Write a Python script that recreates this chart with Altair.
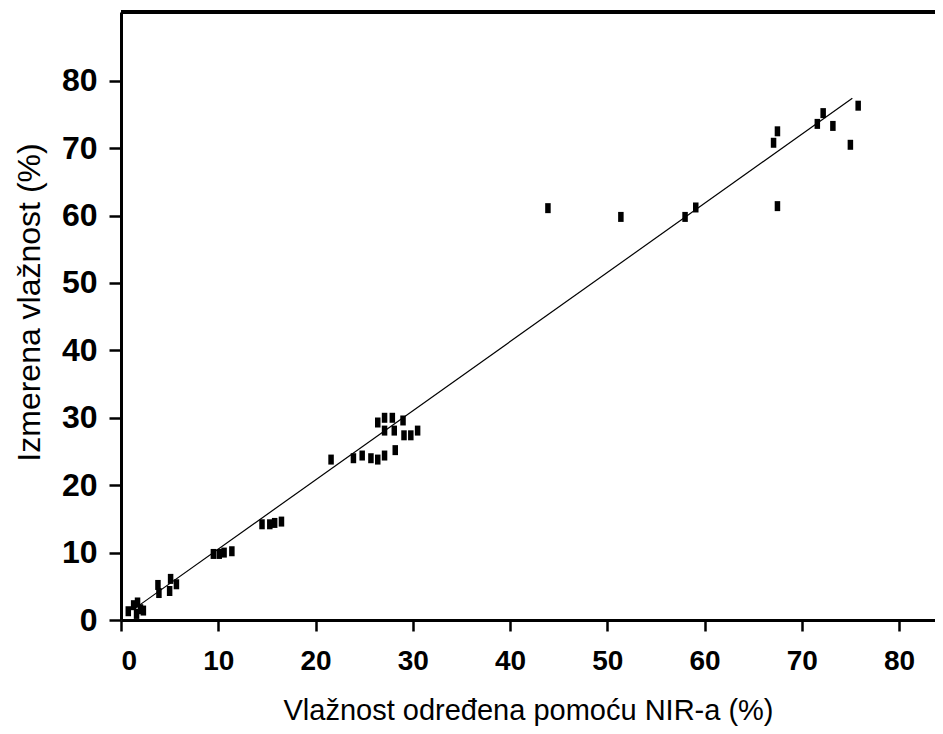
import altair as alt
import pandas as pd

# Measured points: NIR-determined moisture (x) vs measured moisture (y)
nir_x = [0.75, 1.3, 1.7, 2.0, 2.3, 1.6,
         3.8, 3.9, 5.0, 5.1, 5.7,
         9.5, 10.1, 10.6, 11.4,
         14.5, 15.3, 15.8, 16.5,
         21.6,
         23.9, 24.8, 25.7, 26.4, 27.1,
         26.4, 27.1, 27.9, 29.0,
         27.1, 28.1, 29.1, 29.8, 30.5,
         28.2,
         43.9, 51.4, 58.0, 59.1,
         67.1, 67.5, 67.5,
         71.6, 72.2, 73.2, 75.0, 75.8]
meas_y = [1.3, 2.2, 2.6, 1.6, 1.4, 0.9,
          5.2, 4.0, 4.3, 6.1, 5.3,
          9.8, 9.8, 10.0, 10.2,
          14.2, 14.2, 14.4, 14.6,
          23.8,
          24.0, 24.4, 24.0, 23.8, 24.4,
          29.3, 30.0, 30.0, 29.6,
          28.1, 28.1, 27.4, 27.4, 28.1,
          25.2,
          61.1, 59.8, 59.8, 61.2,
          70.8, 72.5, 61.4,
          73.6, 75.2, 73.3, 70.5, 76.3]

# Fitted regression line end points
fit_x = [1.5, 75.2]
fit_y = [1.8, 77.4]

x_ticks = [0, 10, 20, 30, 40, 50, 60, 70, 80]
y_ticks = [0, 10, 20, 30, 40, 50, 60, 70, 80]

W, H = 814, 608

pts = pd.DataFrame({"nir": nir_x, "meas": meas_y})
fit = pd.DataFrame({"nir": fit_x, "meas": fit_y})

xs = alt.Scale(domain=[0, 83.7], nice=False, zero=False)
ys = alt.Scale(domain=[0, 90.2], nice=False, zero=False)

xax = alt.Axis(values=x_ticks, title="Vlažnost određena pomoću NIR-a (%)", grid=False,
               domainColor="black", domainWidth=3, tickColor="black", tickWidth=2.5,
               tickSize=11, labelFont="Liberation Sans", labelFontWeight="bold",
               labelFontSize=28, labelColor="black", labelPadding=16,
               titleFont="Liberation Sans", titleFontSize=29, titleFontWeight="normal",
               titleColor="black", titlePadding=21)
yax = alt.Axis(values=y_ticks, title="Izmerena vlažnost (%)", grid=False,
               domainColor="black", domainWidth=3, tickColor="black", tickWidth=2.5,
               tickSize=12, labelFont="Liberation Sans", labelFontWeight="bold",
               labelFontSize=32, labelColor="black", labelPadding=12,
               titleFont="Liberation Sans", titleFontSize=32, titleFontWeight="normal",
               titleColor="black", titlePadding=15, titleY=290)

top = alt.Chart(pd.DataFrame({"a": [0]})).mark_rule(color="black", strokeWidth=4).encode(
    x=alt.value(0), x2=alt.value(W), y=alt.value(0))

line = alt.Chart(fit).mark_line(color="black", strokeWidth=1.2).encode(
    x=alt.X("nir:Q", scale=xs, axis=xax),
    y=alt.Y("meas:Q", scale=ys, axis=yax))

points = alt.Chart(pts).mark_point(
    shape="M-0.55,-1H0.55V1H-0.55Z", filled=True, color="black", size=100, opacity=1
).encode(
    x=alt.X("nir:Q", scale=xs, axis=xax),
    y=alt.Y("meas:Q", scale=ys, axis=yax))

chart = alt.layer(top, line, points).properties(
    width=W, height=H,
    autosize=alt.AutoSizeParams(type="none"),
    padding={"left": 113, "top": 4, "right": 0, "bottom": 106},
).configure_view(stroke=None)

chart.save("out.html", embed_options={"renderer": "svg", "actions": False})
